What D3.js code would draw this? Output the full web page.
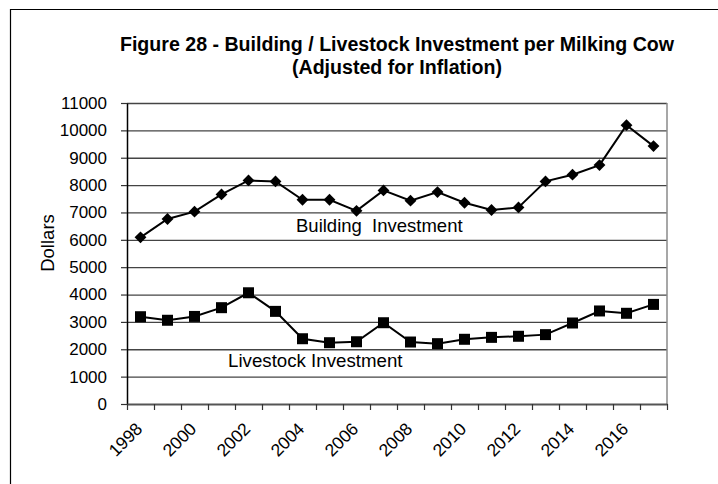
<!DOCTYPE html>
<html>
<head>
<meta charset="utf-8">
<script src="https://cdn.jsdelivr.net/npm/d3@7/dist/d3.min.js"></script>
<style>
  html, body { margin: 0; padding: 0; background: #fff; }
  svg { display: block; font-family: "Liberation Sans", Arial, sans-serif; }
</style>
</head>
<body>
<svg id="chart" width="718" height="484"></svg>
<script>
// Investment per milking cow, inflation-adjusted dollars
const years = [1998, 1999, 2000, 2001, 2002, 2003, 2004, 2005, 2006, 2007,
               2008, 2009, 2010, 2011, 2012, 2013, 2014, 2015, 2016, 2017];
const buildingInvestment = [6090, 6760, 7030, 7660, 8170, 8135, 7465, 7465, 7060, 7805,
                            7430, 7745, 7355, 7090, 7185, 8135, 8380, 8730, 10190, 9425];
const livestockInvestment = [3190, 3060, 3200, 3520, 4065, 3385, 2385, 2240, 2275, 2970,
                             2265, 2205, 2365, 2435, 2475, 2535, 2960, 3400, 3315, 3640];
const yTicks = [0, 1000, 2000, 3000, 4000, 5000, 6000, 7000, 8000, 9000, 10000, 11000];
const xLabelYears = [1998, 2000, 2002, 2004, 2006, 2008, 2010, 2012, 2014, 2016];
const titleLines = ["Figure 28 - Building / Livestock Investment per Milking Cow",
                    "(Adjusted for Inflation)"];

const svg = d3.select("#chart");
const plotLeft = 127, plotRight = 667, plotTop = 103, plotBottom = 404;

const x = d3.scaleBand().domain(years).range([plotLeft, plotRight]).padding(0);
const xEdge = d3.scaleLinear().domain([0, years.length]).range([plotLeft, plotRight]);
const y = d3.scaleLinear().domain([0, 11000]).range([plotBottom, plotTop]);

// outer frame
svg.append("path")
  .attr("d", `M10.5,484 V9.5 H718`)
  .attr("fill", "none").attr("stroke", "#000").attr("stroke-width", 1.2);

// title
svg.append("g").selectAll("text").data(titleLines).join("text")
  .attr("x", (plotLeft + plotRight) / 2)
  .attr("y", (d, i) => 51 + i * 23)
  .attr("text-anchor", "middle")
  .attr("font-weight", "bold")
  .attr("font-size", 19.6)
  .attr("fill", "#000")
  .text(d => d);

// horizontal gridlines
svg.append("g")
  .attr("transform", `translate(${plotLeft},0)`)
  .call(d3.axisLeft(y).tickValues(yTicks.slice(1)).tickSize(-(plotRight - plotLeft)).tickFormat(""))
  .call(g => g.select(".domain").remove())
  .call(g => g.selectAll("line").attr("stroke", "#444").attr("stroke-width", 1.3));

// right border of the plot area
svg.append("line")
  .attr("x1", plotRight).attr("x2", plotRight).attr("y1", plotTop).attr("y2", plotBottom)
  .attr("stroke", "#8a8a8a").attr("stroke-width", 1.5);

// y axis
svg.append("g")
  .attr("transform", `translate(${plotLeft},0)`)
  .call(d3.axisLeft(y).tickValues(yTicks).tickSize(6).tickPadding(14).tickSizeOuter(0)
    .tickFormat(d3.format("d")))
  .call(g => g.select(".domain").attr("stroke", "#000").attr("stroke-width", 1.5))
  .call(g => g.selectAll("line").attr("stroke", "#333").attr("stroke-width", 1.2))
  .call(g => g.selectAll("text").attr("font-size", 17).attr("fill", "#000")
    .attr("font-family", "Liberation Sans, Arial, sans-serif"));

// x axis: boundary ticks
svg.append("g")
  .attr("transform", `translate(0,${plotBottom})`)
  .call(d3.axisBottom(xEdge).tickValues(d3.range(years.length + 1))
    .tickSize(6).tickSizeOuter(0).tickFormat(""))
  .call(g => g.select(".domain").attr("stroke", "#555").attr("stroke-width", 2))
  .call(g => g.selectAll("line").attr("stroke", "#333").attr("stroke-width", 1.2));

// x axis: rotated year labels
svg.append("g")
  .attr("transform", `translate(0,${plotBottom})`)
  .call(d3.axisBottom(x).tickValues(xLabelYears).tickSize(0).tickFormat(d3.format("d")))
  .call(g => g.select(".domain").remove())
  .call(g => g.selectAll(".tick text")
    .attr("font-size", 17.5).attr("fill", "#000")
    .attr("font-family", "Liberation Sans, Arial, sans-serif")
    .attr("text-anchor", "end")
    .attr("x", 0).attr("y", 0).attr("dy", 0)
    .attr("transform", "translate(3,26) rotate(-45)"));

// y axis title
svg.append("text")
  .attr("transform", "translate(53.5,243) rotate(-90)")
  .attr("text-anchor", "middle")
  .attr("font-size", 18.5)
  .attr("fill", "#000")
  .text("Dollars");

const cx = d => x(d) + x.bandwidth() / 2;
const line = d3.line().x(d => cx(d[0])).y(d => y(d[1]));

// building series with diamonds
const bData = years.map((yr, i) => [yr, buildingInvestment[i]]);
svg.append("path").datum(bData)
  .attr("d", line).attr("fill", "none").attr("stroke", "#000").attr("stroke-width", 2);
svg.append("g").selectAll("path").data(bData).join("path")
  .attr("transform", d => `translate(${cx(d[0])},${y(d[1])}) rotate(45)`)
  .attr("d", d3.symbol().type(d3.symbolSquare).size(70))
  .attr("fill", "#000");

// livestock series with squares
const lData = years.map((yr, i) => [yr, livestockInvestment[i]]);
svg.append("path").datum(lData)
  .attr("d", line).attr("fill", "none").attr("stroke", "#000").attr("stroke-width", 2);
svg.append("g").selectAll("path").data(lData).join("path")
  .attr("transform", d => `translate(${cx(d[0])},${y(d[1])})`)
  .attr("d", d3.symbol().type(d3.symbolSquare).size(121))
  .attr("fill", "#000");

// series labels
svg.append("text").attr("x", 296).attr("y", 232)
  .attr("font-size", 18.5).attr("fill", "#000")
  .text("Building\u00a0 Investment");
svg.append("text").attr("x", 228).attr("y", 367)
  .attr("font-size", 18.7).attr("fill", "#000")
  .text("Livestock Investment");
</script>
</body>
</html>
